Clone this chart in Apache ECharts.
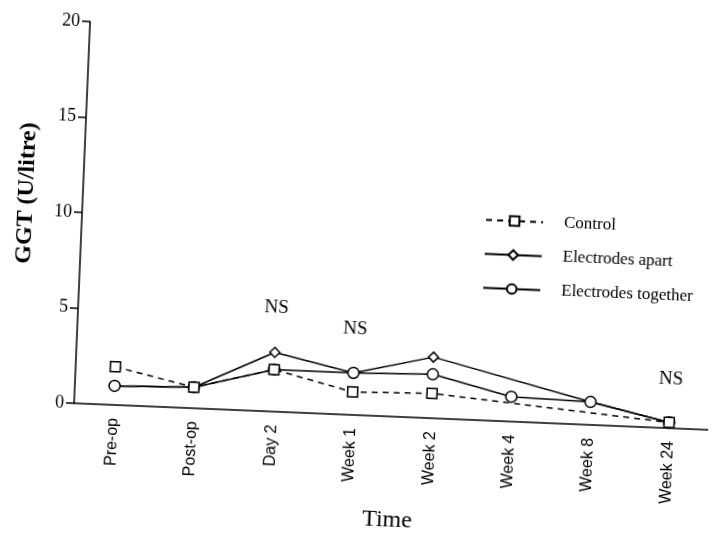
<!DOCTYPE html>
<html>
<head>
<meta charset="utf-8">
<script src="https://cdn.jsdelivr.net/npm/echarts@6/dist/echarts.min.js"></script>
<style>
  html, body { margin: 0; padding: 0; background: #fff; overflow: hidden; }
  /* the scan is tilted a little clockwise, so the whole chart is too */
  #chart { width: 715px; height: 536px; transform: rotate(2.4deg); transform-origin: 50% 50%; }
</style>
</head>
<body>
<div id="chart"></div>
<script>
// GGT over time, three groups
const categories = ['Pre-op', 'Post-op', 'Day 2', 'Week 1', 'Week 2', 'Week 4', 'Week 8', 'Week 24'];
const control  = [2.0, 1.1, 2.2, 1.2, 1.3, null, null, 0.3];
const apart    = [1.0, 1.1, 3.1, 2.2, 3.2, null, 1.2, 0.3];
const together = [1.0, 1.1, 2.2, 2.2, 2.3, 1.3, 1.2, 0.3];

// "NS" notes above some time points
const nsAt    = ['Day 2', 'Week 1', 'Week 24'];
const nsLevel = [5.45, 4.5, 2.55];

const serif = '"Liberation Serif", "DejaVu Serif", serif';
const sans = '"Liberation Sans", "DejaVu Sans", sans-serif';

const chart = echarts.init(document.getElementById('chart'));

function lineSeries(name, data, symbol, size, dashed) {
  return {
    name,
    type: 'line',
    data,
    connectNulls: true,
    symbol,
    symbolSize: size,
    showAllSymbol: true,
    lineStyle: { color: '#000', width: 1.5, type: dashed ? [6, 5] : 'solid' },
    itemStyle: { color: '#fff', borderColor: '#000', borderWidth: 1.5 },
    emphasis: { disabled: true },
    z: dashed ? 3 : 2,
  };
}

chart.setOption({
  backgroundColor: '#fff',
  animation: false,
  grid: { left: 80, right: 0, top: 33, bottom: 120 },
  legend: {
    orient: 'vertical',
    left: 478,
    top: 201,
    itemWidth: 57,
    itemHeight: 12,
    itemGap: 17,
    selectedMode: false,
    data: ['Control', 'Electrodes apart', 'Electrodes together'],
    textStyle: { fontFamily: serif, fontSize: 17, color: '#000', padding: [0, 0, 0, 16] },
  },
  xAxis: {
    type: 'category',
    data: categories,
    boundaryGap: true,
    name: 'Time',
    nameLocation: 'middle',
    nameGap: 92,
    nameTextStyle: { fontFamily: serif, fontSize: 24, color: '#000' },
    axisLine: { lineStyle: { color: '#000', width: 1.5 } },
    axisTick: { alignWithLabel: true, length: 7, lineStyle: { color: '#000', width: 1.5 } },
    axisLabel: { rotate: 90, margin: 13, fontFamily: sans, fontSize: 16, color: '#000' },
    splitLine: { show: false },
  },
  yAxis: {
    type: 'value',
    min: 0,
    max: 20,
    interval: 5,
    name: 'GGT (U/litre)',
    nameLocation: 'middle',
    nameGap: 44,
    nameRotate: 90,
    nameTextStyle: { fontFamily: serif, fontSize: 24, fontWeight: 'bold', color: '#000', padding: [0, 0, 0, 34] },
    axisLine: { show: true, lineStyle: { color: '#000', width: 1.5 } },
    axisTick: { show: true, length: 8, lineStyle: { color: '#000', width: 1.5 } },
    axisLabel: { margin: 10, fontFamily: serif, fontSize: 18, color: '#000' },
    splitLine: { show: false },
  },
  series: [
    lineSeries('Electrodes apart', apart, 'diamond', 10, false),
    lineSeries('Electrodes together', together, 'circle', 11, false),
    lineSeries('Control', control, 'rect', 10, true),
    {
      name: 'NS',
      type: 'scatter',
      data: nsAt.map((c, i) => [c, nsLevel[i]]),
      symbolSize: 0,
      silent: true,
      itemStyle: { opacity: 1 },
      label: {
        show: true,
        position: 'inside',
        formatter: 'NS',
        fontFamily: serif,
        fontSize: 19,
        color: '#000',
        textBorderWidth: 0,
      },
    },
  ],
});
</script>
</body>
</html>
